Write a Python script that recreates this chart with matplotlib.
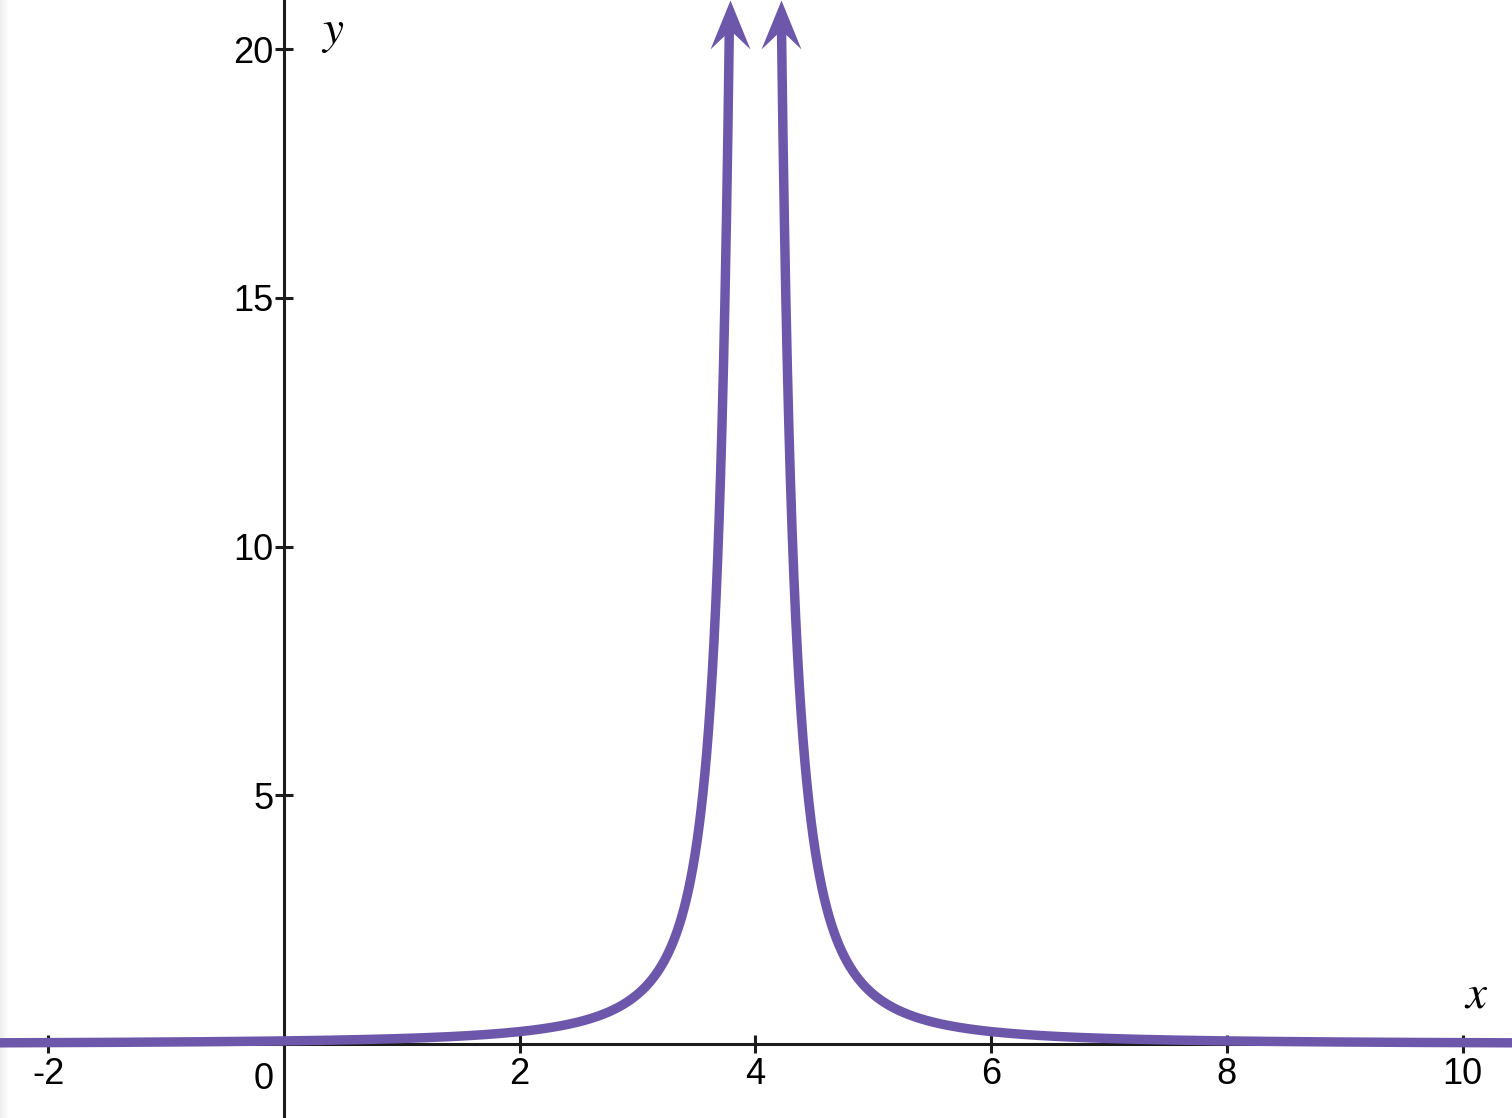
import numpy as np
import matplotlib.pyplot as plt
from matplotlib.path import Path

# function shown: y = 1 / (x - 4)^2
ASYMPTOTE_X = 4.0
POWER = 2

x_ticks = [-2, 2, 4, 6, 8, 10]
x_tick_labels = ["-2", "2", "4", "6", "8", "10"]
y_ticks = [5, 10, 15, 20]
y_tick_labels = ["5", "10", "15", "20"]

X_MIN, X_MAX = -2.41, 10.42
Y_MIN, Y_MAX = -1.487, 20.985

CURVE = "#6c57ab"
AXIS = "#1c1c1c"


def f(x):
    return 1.0 / np.abs(x - ASYMPTOTE_X) ** POWER


def main():
    plt.rcParams["mathtext.fontset"] = "stix"
    fig = plt.figure(figsize=(15.12, 11.18), dpi=100)
    ax = fig.add_axes([0, 0, 1, 1])
    ax.set_xlim(X_MIN, X_MAX)
    ax.set_ylim(Y_MIN, Y_MAX)

    # faint grey strip on the left edge
    grad = np.linspace(0.93, 1.0, 64).reshape(1, -1)
    ax.imshow(grad, cmap="gray", vmin=0, vmax=1, aspect="auto",
              extent=(X_MIN, X_MIN + 0.07, Y_MIN, Y_MAX), zorder=0)

    # stop the line a bit below the top, the arrow heads finish it
    y_end = Y_MAX - 0.55
    gap = y_end ** (-1.0 / POWER)
    tip_gap = Y_MAX ** (-1.0 / POWER)
    left_x = np.linspace(X_MIN, ASYMPTOTE_X - gap, 2000)
    right_x = np.linspace(ASYMPTOTE_X + gap, X_MAX, 2000)
    for xs in (left_x, right_x):
        ax.plot(xs, f(xs), color=CURVE, lw=6.8, solid_capstyle="butt",
                zorder=5, clip_on=False)

    # notched arrow heads
    arrow = Path([(0, 0), (-20, -49), (0, -30), (20, -49), (0, 0)],
                 [Path.MOVETO, Path.LINETO, Path.LINETO, Path.LINETO,
                  Path.CLOSEPOLY])
    tips_x = [ASYMPTOTE_X - tip_gap, ASYMPTOTE_X + tip_gap]
    ax.plot(tips_x, [Y_MAX, Y_MAX], ls="none", marker=arrow, ms=70.5,
            color=CURVE, mew=0, zorder=6, clip_on=False)

    for side in ("top", "right"):
        ax.spines[side].set_visible(False)
    for side in ("left", "bottom"):
        ax.spines[side].set_position(("data", 0))
        ax.spines[side].set_color(AXIS)
        ax.spines[side].set_linewidth(2.2)
        ax.spines[side].set_zorder(4)

    ax.set_xticks(x_ticks)
    ax.set_xticklabels(x_tick_labels)
    ax.set_yticks(y_ticks)
    ax.set_yticklabels(y_tick_labels)
    ax.tick_params(axis="both", direction="inout", length=13, width=2.2,
                   color=AXIS, labelsize=26, labelcolor="black")
    ax.tick_params(axis="x", pad=3)
    ax.tick_params(axis="y", pad=1)
    for lab in ax.get_xticklabels() + ax.get_yticklabels():
        lab.set_fontfamily("Liberation Sans")

    ax.text(-0.17, -0.36, "0", fontsize=26, family="Liberation Sans",
            ha="center", va="top")
    ax.text(10.12, 0.74, "$x$", fontsize=34, ha="center", va="baseline")
    ax.text(0.41, 20.12, "$y$", fontsize=34, ha="center", va="baseline")

    fig.savefig("out.png", dpi=100)


if __name__ == "__main__":
    main()
